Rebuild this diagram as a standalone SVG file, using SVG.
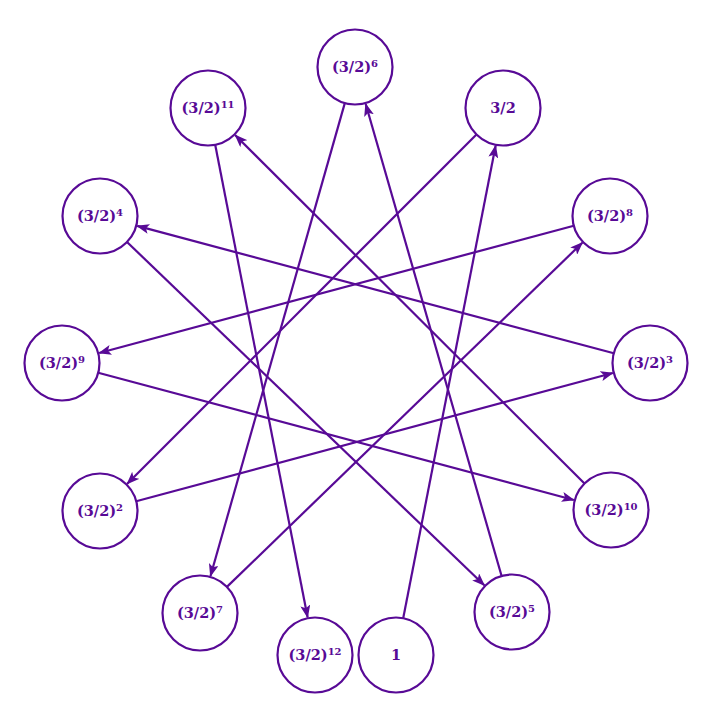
<svg xmlns="http://www.w3.org/2000/svg" width="717" height="728" viewBox="0 0 717 728">
<defs>
<style>
.n circle{fill:#fff;stroke:#580a96;stroke-width:2.2}
.n text{font-family:"DejaVu Serif",serif;font-weight:bold;font-size:14.5px;fill:#580a96;text-anchor:middle}
.n tspan.s{font-size:10px}
.e line{stroke:#580a96;stroke-width:2.2;marker-end:url(#ah)}
</style>
<marker id="ah" markerUnits="userSpaceOnUse" markerWidth="13" markerHeight="10" viewBox="0 0 13 10" refX="12" refY="5" orient="auto">
<path d="M0,0 L13,5 L0,10 L3,5 z" fill="#580a96"/>
</marker>
</defs>
<rect width="717" height="728" fill="#fff"/>
<g id="connectors" class="e">
<line x1="403.2" y1="618.2" x2="495.6" y2="145.8"/>
<line x1="476.5" y1="134.5" x2="127.2" y2="483.8"/>
<line x1="136.2" y1="501.3" x2="612.8" y2="373.0"/>
<line x1="613.8" y1="353.3" x2="137.2" y2="225.9"/>
<line x1="127.0" y1="242.0" x2="484.3" y2="585.3"/>
<line x1="501.6" y1="576.0" x2="365.7" y2="104.0"/>
<line x1="344.8" y1="103.1" x2="210.5" y2="576.0"/>
<line x1="226.9" y1="586.9" x2="582.3" y2="242.8"/>
<line x1="573.8" y1="225.7" x2="99.2" y2="353.0"/>
<line x1="98.2" y1="372.7" x2="573.8" y2="500.0"/>
<line x1="584.5" y1="483.5" x2="235.3" y2="135.2"/>
<line x1="215.2" y1="144.8" x2="307.6" y2="617.2"/>
</g>
<g id="n0" class="n"><circle cx="396" cy="655" r="37.5"/><text x="396" y="660">1</text></g>
<g id="n1" class="n"><circle cx="503" cy="108" r="37.5"/><text x="503" y="113">3/2</text></g>
<g id="n2" class="n"><circle cx="100" cy="511" r="37.5"/><text x="100" y="516">(3/2)<tspan class="s" dy="-5">2</tspan></text></g>
<g id="n3" class="n"><circle cx="650" cy="363" r="37.5"/><text x="650" y="368">(3/2)<tspan class="s" dy="-5">3</tspan></text></g>
<g id="n4" class="n"><circle cx="100" cy="216" r="37.5"/><text x="100" y="221">(3/2)<tspan class="s" dy="-5">4</tspan></text></g>
<g id="n5" class="n"><circle cx="512" cy="612" r="37.5"/><text x="512" y="617">(3/2)<tspan class="s" dy="-5">5</tspan></text></g>
<g id="n6" class="n"><circle cx="355" cy="67" r="37.5"/><text x="355" y="72">(3/2)<tspan class="s" dy="-5">6</tspan></text></g>
<g id="n7" class="n"><circle cx="200" cy="613" r="37.5"/><text x="200" y="618">(3/2)<tspan class="s" dy="-5">7</tspan></text></g>
<g id="n8" class="n"><circle cx="610" cy="216" r="37.5"/><text x="610" y="221">(3/2)<tspan class="s" dy="-5">8</tspan></text></g>
<g id="n9" class="n"><circle cx="62" cy="363" r="37.5"/><text x="62" y="368">(3/2)<tspan class="s" dy="-5">9</tspan></text></g>
<g id="n10" class="n"><circle cx="611" cy="510" r="37.5"/><text x="611" y="515">(3/2)<tspan class="s" dy="-5">10</tspan></text></g>
<g id="n11" class="n"><circle cx="208" cy="108" r="37.5"/><text x="208" y="113">(3/2)<tspan class="s" dy="-5">11</tspan></text></g>
<g id="n12" class="n"><circle cx="315" cy="655" r="37.5"/><text x="315" y="660">(3/2)<tspan class="s" dy="-5">12</tspan></text></g>
</svg>
